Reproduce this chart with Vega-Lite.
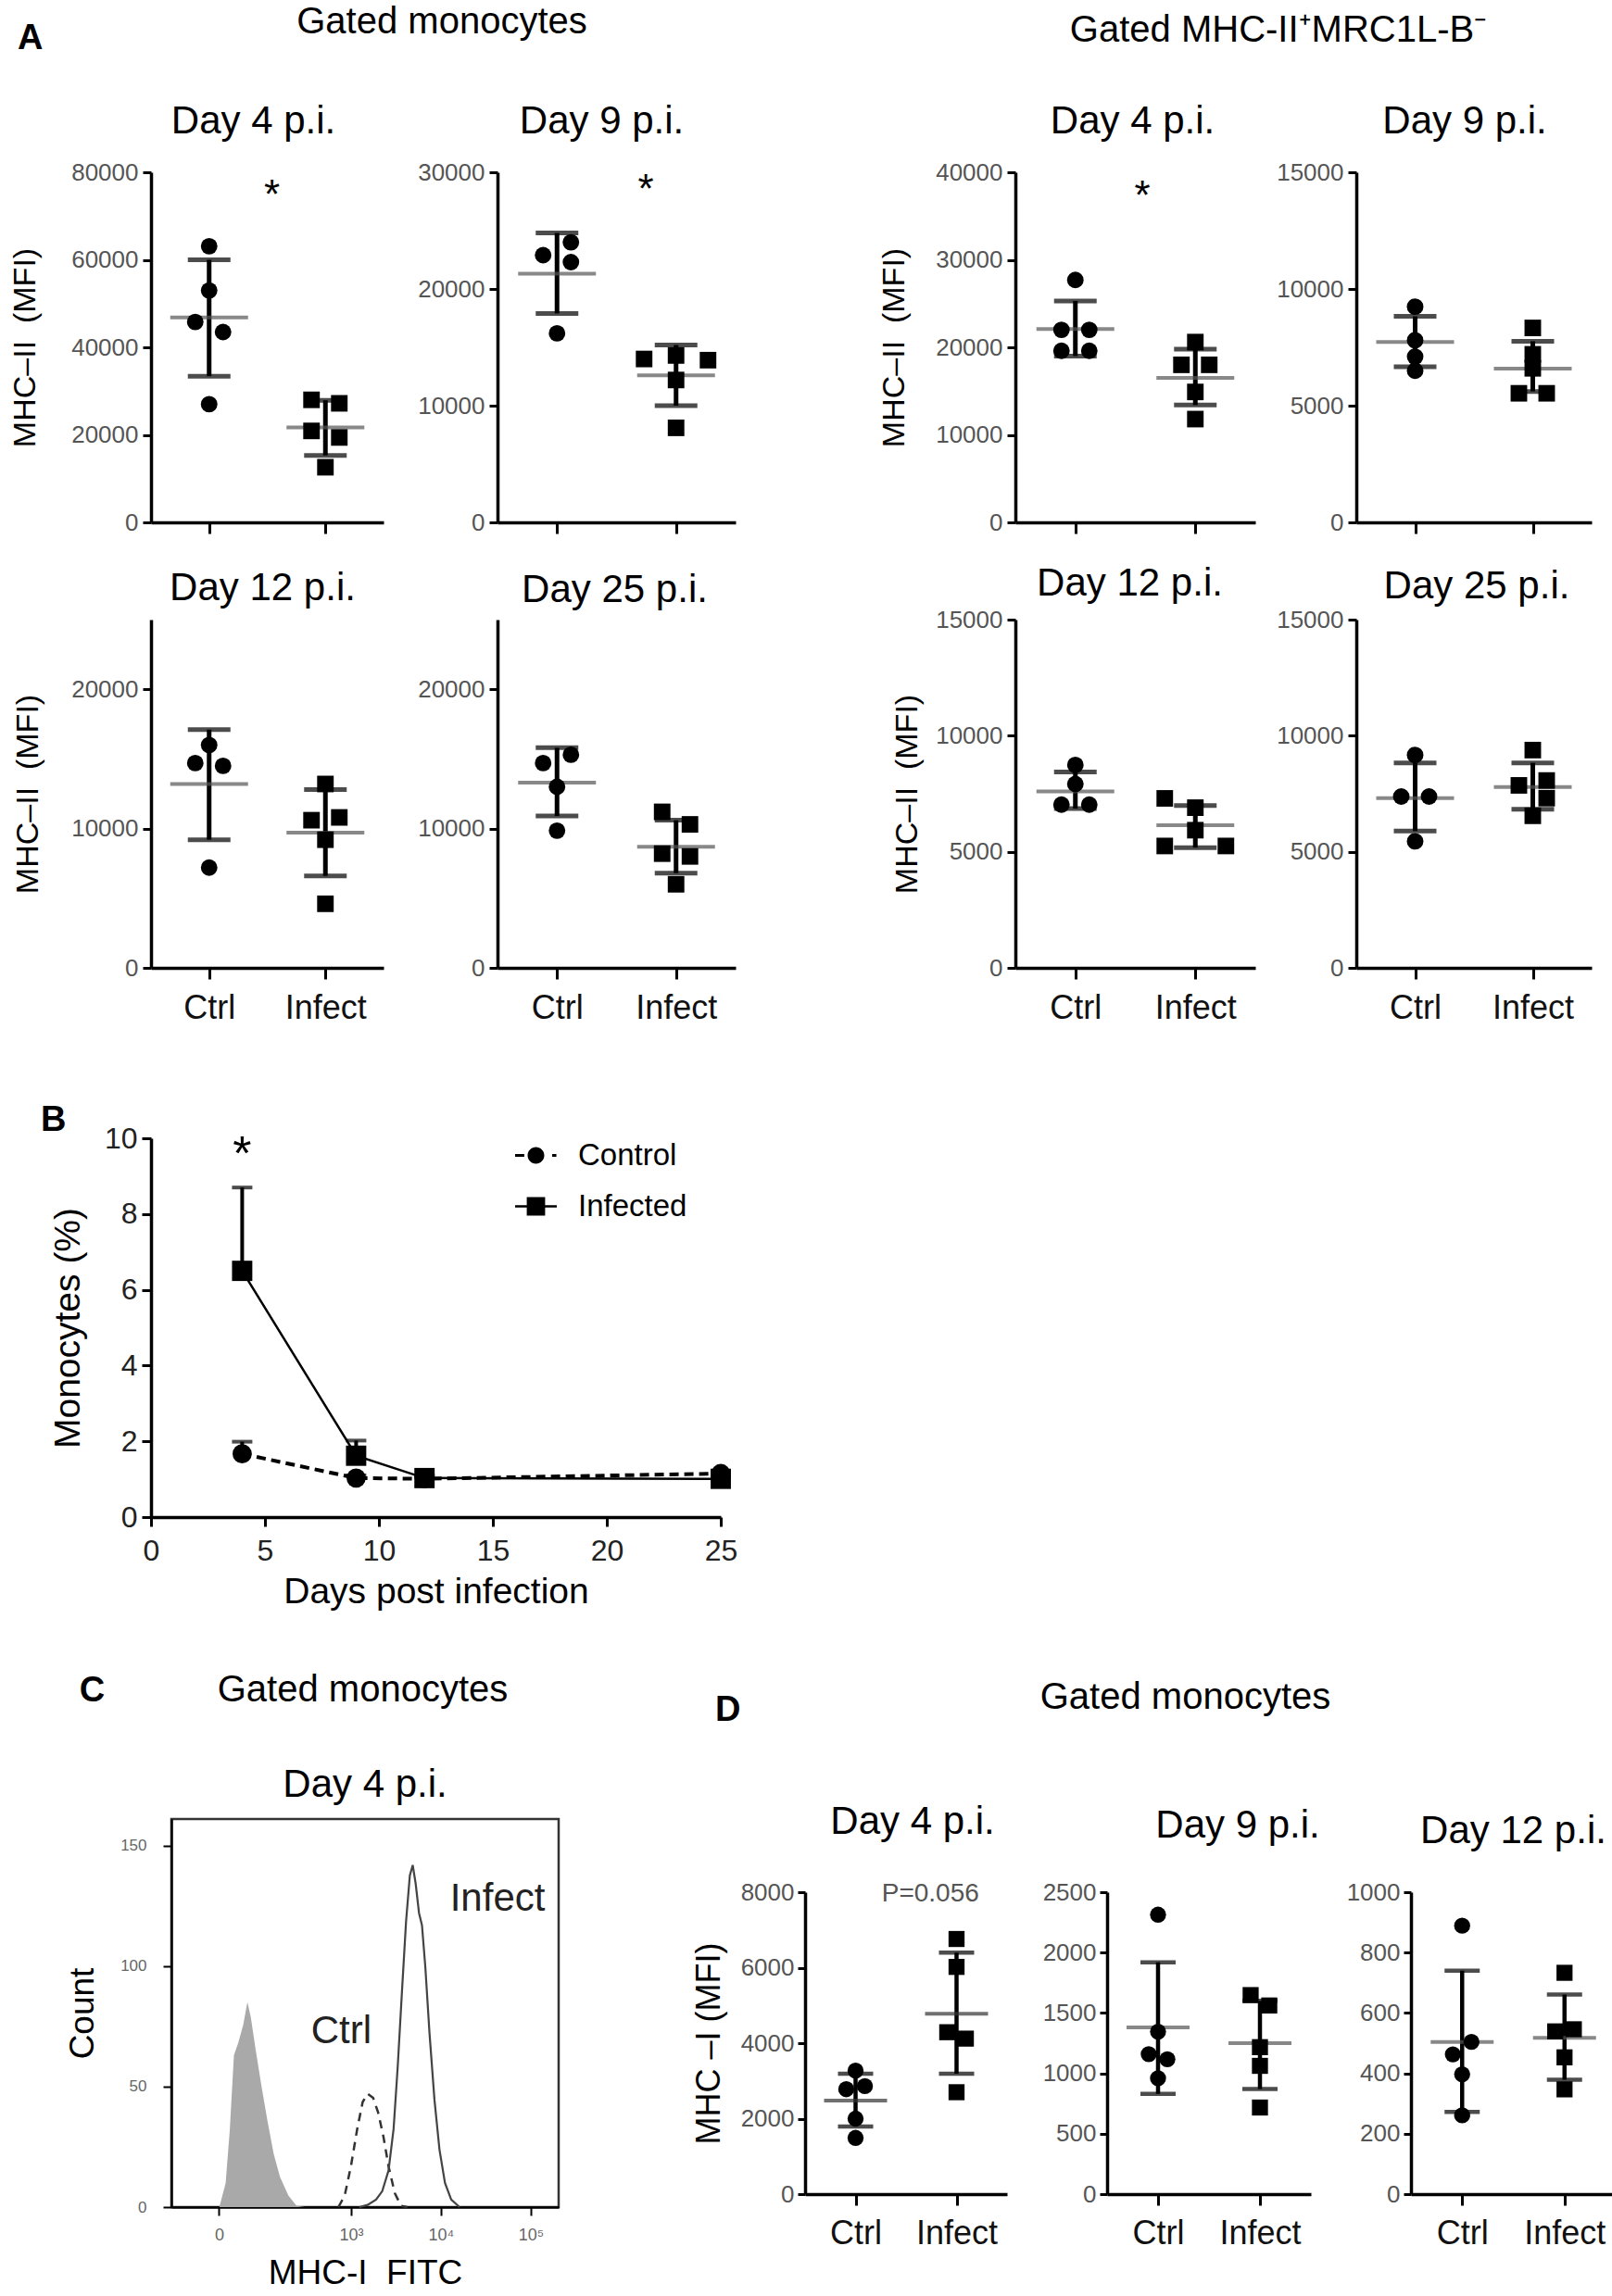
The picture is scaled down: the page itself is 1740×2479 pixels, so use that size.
{
"$schema": "https://vega.github.io/schema/vega-lite/v6.json",
"padding": {"left": 10, "top": 4, "right": 0, "bottom": 0},
"config": {
 "font": "Liberation Sans",
 "view": {"stroke": null},
 "axis": {"grid": false, "domainColor": "black", "domainWidth": 3.5, "tickColor": "black", "tickWidth": 3, "tickSize": 9, "labelColor": "#555", "labelFontSize": 26, "labelPadding": 5, "titleColor": "black", "titleFontWeight": "normal", "titleFontSize": 34, "labelOverlap": false},
 "axisY": {"minExtent": 88, "maxExtent": 88},
 "title": {"fontSize": 42, "fontWeight": "normal", "color": "black", "anchor": "middle", "frame": "group"}
},
"datasets": {
 "pts": [
  {"p":"A1","g":"Ctrl","v":63100,"j":0},{"p":"A1","g":"Ctrl","v":53000,"j":0},{"p":"A1","g":"Ctrl","v":45800,"j":-1},{"p":"A1","g":"Ctrl","v":43500,"j":1},{"p":"A1","g":"Ctrl","v":27000,"j":0},
  {"p":"A1","g":"Infect","v":28000,"j":-1},{"p":"A1","g":"Infect","v":27200,"j":1},{"p":"A1","g":"Infect","v":20900,"j":-1},{"p":"A1","g":"Infect","v":19400,"j":1},{"p":"A1","g":"Infect","v":12600,"j":0},
  {"p":"A2","g":"Ctrl","v":22900,"j":-1},{"p":"A2","g":"Ctrl","v":24000,"j":1},{"p":"A2","g":"Ctrl","v":22300,"j":1},{"p":"A2","g":"Ctrl","v":16200,"j":0},
  {"p":"A2","g":"Infect","v":14000,"j":-2.3},{"p":"A2","g":"Infect","v":14300,"j":0},{"p":"A2","g":"Infect","v":13900,"j":2.3},{"p":"A2","g":"Infect","v":12200,"j":0},{"p":"A2","g":"Infect","v":8100,"j":0},
  {"p":"A3","g":"Ctrl","v":27700,"j":0},{"p":"A3","g":"Ctrl","v":22000,"j":-1},{"p":"A3","g":"Ctrl","v":22000,"j":1},{"p":"A3","g":"Ctrl","v":19600,"j":-1},{"p":"A3","g":"Ctrl","v":19600,"j":1},
  {"p":"A3","g":"Infect","v":20600,"j":0},{"p":"A3","g":"Infect","v":18000,"j":-1},{"p":"A3","g":"Infect","v":18000,"j":1},{"p":"A3","g":"Infect","v":14900,"j":0},{"p":"A3","g":"Infect","v":11800,"j":0},
  {"p":"A4","g":"Ctrl","v":9240,"j":0},{"p":"A4","g":"Ctrl","v":7800,"j":0},{"p":"A4","g":"Ctrl","v":7100,"j":0},{"p":"A4","g":"Ctrl","v":6500,"j":0},
  {"p":"A4","g":"Infect","v":8330,"j":0},{"p":"A4","g":"Infect","v":7200,"j":0},{"p":"A4","g":"Infect","v":6600,"j":0},{"p":"A4","g":"Infect","v":5530,"j":-1},{"p":"A4","g":"Infect","v":5530,"j":1},
  {"p":"A5","g":"Ctrl","v":16000,"j":0},{"p":"A5","g":"Ctrl","v":14700,"j":-1},{"p":"A5","g":"Ctrl","v":14500,"j":1},{"p":"A5","g":"Ctrl","v":7200,"j":0},
  {"p":"A5","g":"Infect","v":13200,"j":0},{"p":"A5","g":"Infect","v":10600,"j":-1},{"p":"A5","g":"Infect","v":10800,"j":1},{"p":"A5","g":"Infect","v":9200,"j":0},{"p":"A5","g":"Infect","v":4600,"j":0},
  {"p":"A6","g":"Ctrl","v":15300,"j":1},{"p":"A6","g":"Ctrl","v":14700,"j":-1},{"p":"A6","g":"Ctrl","v":13000,"j":0},{"p":"A6","g":"Ctrl","v":9850,"j":0},
  {"p":"A6","g":"Infect","v":11200,"j":-1},{"p":"A6","g":"Infect","v":10300,"j":1},{"p":"A6","g":"Infect","v":8200,"j":-1},{"p":"A6","g":"Infect","v":8000,"j":1},{"p":"A6","g":"Infect","v":6000,"j":0},
  {"p":"A7","g":"Ctrl","v":8740,"j":0},{"p":"A7","g":"Ctrl","v":7920,"j":0},{"p":"A7","g":"Ctrl","v":7030,"j":-1},{"p":"A7","g":"Ctrl","v":7030,"j":1},
  {"p":"A7","g":"Infect","v":7300,"j":-2.2},{"p":"A7","g":"Infect","v":6900,"j":0},{"p":"A7","g":"Infect","v":5930,"j":0},{"p":"A7","g":"Infect","v":5250,"j":-2.2},{"p":"A7","g":"Infect","v":5250,"j":2.2},
  {"p":"A8","g":"Ctrl","v":9170,"j":0},{"p":"A8","g":"Ctrl","v":7380,"j":-1},{"p":"A8","g":"Ctrl","v":7380,"j":1},{"p":"A8","g":"Ctrl","v":5450,"j":0},
  {"p":"A8","g":"Infect","v":9380,"j":0},{"p":"A8","g":"Infect","v":7860,"j":-1},{"p":"A8","g":"Infect","v":8070,"j":1},{"p":"A8","g":"Infect","v":7310,"j":1},{"p":"A8","g":"Infect","v":6550,"j":0},
  {"p":"D1","g":"Ctrl","v":3270,"j":0},{"p":"D1","g":"Ctrl","v":2780,"j":-0.67},{"p":"D1","g":"Ctrl","v":2860,"j":0.67},{"p":"D1","g":"Ctrl","v":2000,"j":0},{"p":"D1","g":"Ctrl","v":1490,"j":0},
  {"p":"D1","g":"Infect","v":6760,"j":0},{"p":"D1","g":"Infect","v":6020,"j":0},{"p":"D1","g":"Infect","v":4290,"j":-0.67},{"p":"D1","g":"Infect","v":4120,"j":0.67},{"p":"D1","g":"Infect","v":2700,"j":0},
  {"p":"D2","g":"Ctrl","v":2314,"j":0},{"p":"D2","g":"Ctrl","v":1345,"j":0},{"p":"D2","g":"Ctrl","v":1159,"j":-0.67},{"p":"D2","g":"Ctrl","v":1117,"j":0.67},{"p":"D2","g":"Ctrl","v":959,"j":0},
  {"p":"D2","g":"Infect","v":1648,"j":-0.67},{"p":"D2","g":"Infect","v":1562,"j":0.67},{"p":"D2","g":"Infect","v":1217,"j":0},{"p":"D2","g":"Infect","v":1062,"j":0},{"p":"D2","g":"Infect","v":717,"j":0},
  {"p":"D3","g":"Ctrl","v":889,"j":0},{"p":"D3","g":"Ctrl","v":504,"j":0.67},{"p":"D3","g":"Ctrl","v":463,"j":-0.67},{"p":"D3","g":"Ctrl","v":397,"j":0},{"p":"D3","g":"Ctrl","v":261,"j":0},
  {"p":"D3","g":"Infect","v":733,"j":0},{"p":"D3","g":"Infect","v":539,"j":-0.67},{"p":"D3","g":"Infect","v":546,"j":0.67},{"p":"D3","g":"Infect","v":453,"j":0},{"p":"D3","g":"Infect","v":347,"j":0}
 ],
 "sum": [
  {"p":"A1","g":"Ctrl","mean":46800,"lo":33400,"hi":60000},{"p":"A1","g":"Infect","mean":21700,"lo":15300,"hi":27900},
  {"p":"A2","g":"Ctrl","mean":21300,"lo":17900,"hi":24800},{"p":"A2","g":"Infect","mean":12600,"lo":10000,"hi":15200},
  {"p":"A3","g":"Ctrl","mean":22100,"lo":19000,"hi":25300},{"p":"A3","g":"Infect","mean":16500,"lo":13400,"hi":19800},
  {"p":"A4","g":"Ctrl","mean":7730,"lo":6670,"hi":8830},{"p":"A4","g":"Infect","mean":6590,"lo":5610,"hi":7760},
  {"p":"A5","g":"Ctrl","mean":13200,"lo":9200,"hi":17100},{"p":"A5","g":"Infect","mean":9700,"lo":6600,"hi":12800},
  {"p":"A6","g":"Ctrl","mean":13300,"lo":10900,"hi":15800},{"p":"A6","g":"Infect","mean":8700,"lo":6800,"hi":10600},
  {"p":"A7","g":"Ctrl","mean":7600,"lo":6860,"hi":8440},{"p":"A7","g":"Infect","mean":6140,"lo":5180,"hi":6990},
  {"p":"A8","g":"Ctrl","mean":7310,"lo":5890,"hi":8830},{"p":"A8","g":"Infect","mean":7790,"lo":6830,"hi":8830},
  {"p":"D1","g":"Ctrl","mean":2480,"lo":1790,"hi":3190},{"p":"D1","g":"Infect","mean":4780,"lo":3190,"hi":6400},
  {"p":"D2","g":"Ctrl","mean":1380,"lo":830,"hi":1920},{"p":"D2","g":"Infect","mean":1250,"lo":870,"hi":1600},
  {"p":"D3","g":"Ctrl","mean":504,"lo":272,"hi":740},{"p":"D3","g":"Infect","mean":518,"lo":379,"hi":661}
 ],
 "ann": [
  {"p":"A1","g":"mid","t":"*","v":76700,"j":0.33},
  {"p":"A2","g":"mid","t":"*","v":29200,"j":2.1},
  {"p":"A3","g":"mid","t":"*","v":38200,"j":0.5},
  {"p":"D1","g":"mid","t":"P=0.056","v":7950,"j":1.75}
 ],
 "b": [
  {"day":4,"grp":"Control","m":1.67,"hi":1.99},{"day":9,"grp":"Control","m":1.03,"hi":1.1},{"day":12,"grp":"Control","m":1.01,"hi":1.06},{"day":25,"grp":"Control","m":1.15,"hi":1.2},
  {"day":4,"grp":"Infected","m":6.5,"hi":8.7},{"day":9,"grp":"Infected","m":1.62,"hi":2.02},{"day":12,"grp":"Infected","m":1.03,"hi":1.1},{"day":25,"grp":"Infected","m":1.01,"hi":1.08}
 ],
 "bann": [{"day":4,"v":9.85,"t":"*"}],
 "hist": [
  {"s":"iso","d":1.441,"c":0},{"s":"iso","d":1.534,"c":0},{"s":"iso","d":1.604,"c":10},{"s":"iso","d":1.65,"c":32},{"s":"iso","d":1.696,"c":63},{"s":"iso","d":1.743,"c":68},{"s":"iso","d":1.799,"c":75.5},{"s":"iso","d":1.846,"c":85},{"s":"iso","d":1.883,"c":79},{"s":"iso","d":1.939,"c":65},{"s":"iso","d":1.999,"c":51},{"s":"iso","d":2.068,"c":36},{"s":"iso","d":2.139,"c":22},{"s":"iso","d":2.208,"c":12.6},{"s":"iso","d":2.302,"c":4.8},{"s":"iso","d":2.394,"c":0.5},{"s":"iso","d":2.487,"c":0},
  {"s":"ctrl","d":2.859,"c":0},{"s":"ctrl","d":2.929,"c":4.8},{"s":"ctrl","d":2.998,"c":16.9},{"s":"ctrl","d":3.068,"c":32.4},{"s":"ctrl","d":3.129,"c":43.6},{"s":"ctrl","d":3.184,"c":47},{"s":"ctrl","d":3.245,"c":45.3},{"s":"ctrl","d":3.301,"c":39.3},{"s":"ctrl","d":3.361,"c":29},{"s":"ctrl","d":3.417,"c":16.9},{"s":"ctrl","d":3.487,"c":5.7},{"s":"ctrl","d":3.556,"c":0.5},{"s":"ctrl","d":3.626,"c":0},
  {"s":"inf","d":3.091,"c":0},{"s":"inf","d":3.184,"c":0.9},{"s":"inf","d":3.278,"c":3.1},{"s":"inf","d":3.347,"c":6.6},{"s":"inf","d":3.417,"c":15.2},{"s":"inf","d":3.473,"c":32.4},{"s":"inf","d":3.519,"c":58.3},{"s":"inf","d":3.566,"c":89.3},{"s":"inf","d":3.612,"c":118.6},{"s":"inf","d":3.654,"c":137.6},{"s":"inf","d":3.686,"c":141.9},{"s":"inf","d":3.719,"c":134.1},{"s":"inf","d":3.756,"c":122},{"s":"inf","d":3.789,"c":116.9},{"s":"inf","d":3.826,"c":99.7},{"s":"inf","d":3.873,"c":72},{"s":"inf","d":3.928,"c":44.5},{"s":"inf","d":3.984,"c":23.8},{"s":"inf","d":4.045,"c":10},{"s":"inf","d":4.114,"c":3.1},{"s":"inf","d":4.207,"c":0}
 ],
 "cann": [{"t":"Infect","d":4.63,"c":128},{"t":"Ctrl","d":2.89,"c":73}]
},
"vconcat": [
 {
  "title": {"text": "A", "anchor": "start", "frame": "bounds", "fontSize": 38, "fontWeight": "bold", "offset": 0, "dx": 9, "dy": 57},
  "hconcat": [
   {
    "title": {"text": "Gated monocytes", "fontSize": 40, "offset": 66, "frame": "bounds", "dx": 75},
    "columns": 2, "spacing": {"row": 105, "column": 123}, "bounds": "flush",
    "concat": [
     {"width":251,"height":378,"title":{"text":"Day 4 p.i.","offset":20,"dx":-15},
      "layer":[
       {"data":{"name":"sum"},"transform":[{"filter":"datum.p==='A1'"}],"mark":{"type":"rule","color":"black","strokeWidth":5},
        "encoding":{"x":{"field":"g","type":"nominal","scale":{"type":"point","domain":["Ctrl","mid","Infect"],"padding":1},"axis":{"values":["Ctrl","Infect"],"title":null,"labels":false,"tickSize":12}},
         "y":{"field":"lo","type":"quantitative","scale":{"domain":[0,80000],"nice":false},"axis":{"values":[0,20000,40000,60000,80000],"format":"d","title":"MHC–II\u00a0\u00a0(MFI)","titlePadding":31}},"y2":{"field":"hi"}}},
       {"data":{"name":"sum"},"transform":[{"filter":"datum.p==='A1'"}],"mark":{"type":"tick","color":"black","thickness":5,"size":46,"orient":"horizontal"},"encoding":{"x":{"field":"g","type":"nominal"},"y":{"field":"hi","type":"quantitative"}}},
       {"data":{"name":"sum"},"transform":[{"filter":"datum.p==='A1'"}],"mark":{"type":"tick","color":"black","thickness":5,"size":46,"orient":"horizontal"},"encoding":{"x":{"field":"g","type":"nominal"},"y":{"field":"lo","type":"quantitative"}}},
       {"data":{"name":"sum"},"transform":[{"filter":"datum.p==='A1'"}],"mark":{"type":"tick","color":"#555","thickness":4,"size":84,"orient":"horizontal"},"encoding":{"x":{"field":"g","type":"nominal"},"y":{"field":"mean","type":"quantitative"}}},
       {"data":{"name":"pts"},"transform":[{"filter":"datum.p==='A1' && datum.g==='Ctrl'"}],"mark":{"type":"point","shape":"circle","filled":true,"size":320,"color":"black","opacity":1},"encoding":{"x":{"field":"g","type":"nominal"},"xOffset":{"field":"j","type":"quantitative","scale":{"domain":[-1,1],"range":[-15,15]}},"y":{"field":"v","type":"quantitative"}}},
       {"data":{"name":"pts"},"transform":[{"filter":"datum.p==='A1' && datum.g==='Infect'"}],"mark":{"type":"point","shape":"square","filled":true,"size":320,"color":"black","opacity":1},"encoding":{"x":{"field":"g","type":"nominal"},"xOffset":{"field":"j","type":"quantitative","scale":{"domain":[-1,1],"range":[-15,15]}},"y":{"field":"v","type":"quantitative"}}},
       {"data":{"name":"ann"},"transform":[{"filter":"datum.p==='A1'"}],"mark":{"type":"text","fontSize":44,"baseline":"middle","dy":10,"color":"black"},"encoding":{"x":{"field":"g","type":"nominal"},"xOffset":{"field":"j","type":"quantitative","scale":{"domain":[-1,1],"range":[-15,15]}},"y":{"field":"v","type":"quantitative"},"text":{"field":"t"}}}
      ]},
     {"width":257,"height":378,"title":{"text":"Day 9 p.i.","offset":20,"dx":-16},
      "layer":[
       {"data":{"name":"sum"},"transform":[{"filter":"datum.p==='A2'"}],"mark":{"type":"rule","color":"black","strokeWidth":5},
        "encoding":{"x":{"field":"g","type":"nominal","scale":{"type":"point","domain":["Ctrl","mid","Infect"],"padding":1},"axis":{"values":["Ctrl","Infect"],"title":null,"labels":false,"tickSize":12}},
         "y":{"field":"lo","type":"quantitative","scale":{"domain":[0,30000],"nice":false},"axis":{"values":[0,10000,20000,30000],"format":"d","title":null}},"y2":{"field":"hi"}}},
       {"data":{"name":"sum"},"transform":[{"filter":"datum.p==='A2'"}],"mark":{"type":"tick","color":"black","thickness":5,"size":46,"orient":"horizontal"},"encoding":{"x":{"field":"g","type":"nominal"},"y":{"field":"hi","type":"quantitative"}}},
       {"data":{"name":"sum"},"transform":[{"filter":"datum.p==='A2'"}],"mark":{"type":"tick","color":"black","thickness":5,"size":46,"orient":"horizontal"},"encoding":{"x":{"field":"g","type":"nominal"},"y":{"field":"lo","type":"quantitative"}}},
       {"data":{"name":"sum"},"transform":[{"filter":"datum.p==='A2'"}],"mark":{"type":"tick","color":"#555","thickness":4,"size":84,"orient":"horizontal"},"encoding":{"x":{"field":"g","type":"nominal"},"y":{"field":"mean","type":"quantitative"}}},
       {"data":{"name":"pts"},"transform":[{"filter":"datum.p==='A2' && datum.g==='Ctrl'"}],"mark":{"type":"point","shape":"circle","filled":true,"size":320,"color":"black","opacity":1},"encoding":{"x":{"field":"g","type":"nominal"},"xOffset":{"field":"j","type":"quantitative","scale":{"domain":[-1,1],"range":[-15,15]}},"y":{"field":"v","type":"quantitative"}}},
       {"data":{"name":"pts"},"transform":[{"filter":"datum.p==='A2' && datum.g==='Infect'"}],"mark":{"type":"point","shape":"square","filled":true,"size":320,"color":"black","opacity":1},"encoding":{"x":{"field":"g","type":"nominal"},"xOffset":{"field":"j","type":"quantitative","scale":{"domain":[-1,1],"range":[-15,15]}},"y":{"field":"v","type":"quantitative"}}},
       {"data":{"name":"ann"},"transform":[{"filter":"datum.p==='A2'"}],"mark":{"type":"text","fontSize":44,"baseline":"middle","dy":10,"color":"black"},"encoding":{"x":{"field":"g","type":"nominal"},"xOffset":{"field":"j","type":"quantitative","scale":{"domain":[-1,1],"range":[-15,15]}},"y":{"field":"v","type":"quantitative"},"text":{"field":"t"}}}
      ]},
     {"width":251,"height":376,"title":{"text":"Day 12 p.i.","offset":12,"dx":-5},
      "layer":[
       {"data":{"name":"sum"},"transform":[{"filter":"datum.p==='A5'"}],"mark":{"type":"rule","color":"black","strokeWidth":5},
        "encoding":{"x":{"field":"g","type":"nominal","scale":{"type":"point","domain":["Ctrl","mid","Infect"],"padding":1},"axis":{"values":["Ctrl","Infect"],"title":null,"labels":true,"labelFontSize":36,"labelColor":"#111","labelPadding":14,"labelAngle":0,"tickSize":12}},
         "y":{"field":"lo","type":"quantitative","scale":{"domain":[0,25000],"nice":false},"axis":{"values":[0,10000,20000],"format":"d","title":"MHC–II\u00a0\u00a0(MFI)","titlePadding":28}},"y2":{"field":"hi"}}},
       {"data":{"name":"sum"},"transform":[{"filter":"datum.p==='A5'"}],"mark":{"type":"tick","color":"black","thickness":5,"size":46,"orient":"horizontal"},"encoding":{"x":{"field":"g","type":"nominal"},"y":{"field":"hi","type":"quantitative"}}},
       {"data":{"name":"sum"},"transform":[{"filter":"datum.p==='A5'"}],"mark":{"type":"tick","color":"black","thickness":5,"size":46,"orient":"horizontal"},"encoding":{"x":{"field":"g","type":"nominal"},"y":{"field":"lo","type":"quantitative"}}},
       {"data":{"name":"sum"},"transform":[{"filter":"datum.p==='A5'"}],"mark":{"type":"tick","color":"#555","thickness":4,"size":84,"orient":"horizontal"},"encoding":{"x":{"field":"g","type":"nominal"},"y":{"field":"mean","type":"quantitative"}}},
       {"data":{"name":"pts"},"transform":[{"filter":"datum.p==='A5' && datum.g==='Ctrl'"}],"mark":{"type":"point","shape":"circle","filled":true,"size":320,"color":"black","opacity":1},"encoding":{"x":{"field":"g","type":"nominal"},"xOffset":{"field":"j","type":"quantitative","scale":{"domain":[-1,1],"range":[-15,15]}},"y":{"field":"v","type":"quantitative"}}},
       {"data":{"name":"pts"},"transform":[{"filter":"datum.p==='A5' && datum.g==='Infect'"}],"mark":{"type":"point","shape":"square","filled":true,"size":320,"color":"black","opacity":1},"encoding":{"x":{"field":"g","type":"nominal"},"xOffset":{"field":"j","type":"quantitative","scale":{"domain":[-1,1],"range":[-15,15]}},"y":{"field":"v","type":"quantitative"}}}
      ]},
     {"width":257,"height":376,"title":{"text":"Day 25 p.i.","offset":10,"dx":-2},
      "layer":[
       {"data":{"name":"sum"},"transform":[{"filter":"datum.p==='A6'"}],"mark":{"type":"rule","color":"black","strokeWidth":5},
        "encoding":{"x":{"field":"g","type":"nominal","scale":{"type":"point","domain":["Ctrl","mid","Infect"],"padding":1},"axis":{"values":["Ctrl","Infect"],"title":null,"labels":true,"labelFontSize":36,"labelColor":"#111","labelPadding":14,"labelAngle":0,"tickSize":12}},
         "y":{"field":"lo","type":"quantitative","scale":{"domain":[0,25000],"nice":false},"axis":{"values":[0,10000,20000],"format":"d","title":null}},"y2":{"field":"hi"}}},
       {"data":{"name":"sum"},"transform":[{"filter":"datum.p==='A6'"}],"mark":{"type":"tick","color":"black","thickness":5,"size":46,"orient":"horizontal"},"encoding":{"x":{"field":"g","type":"nominal"},"y":{"field":"hi","type":"quantitative"}}},
       {"data":{"name":"sum"},"transform":[{"filter":"datum.p==='A6'"}],"mark":{"type":"tick","color":"black","thickness":5,"size":46,"orient":"horizontal"},"encoding":{"x":{"field":"g","type":"nominal"},"y":{"field":"lo","type":"quantitative"}}},
       {"data":{"name":"sum"},"transform":[{"filter":"datum.p==='A6'"}],"mark":{"type":"tick","color":"#555","thickness":4,"size":84,"orient":"horizontal"},"encoding":{"x":{"field":"g","type":"nominal"},"y":{"field":"mean","type":"quantitative"}}},
       {"data":{"name":"pts"},"transform":[{"filter":"datum.p==='A6' && datum.g==='Ctrl'"}],"mark":{"type":"point","shape":"circle","filled":true,"size":320,"color":"black","opacity":1},"encoding":{"x":{"field":"g","type":"nominal"},"xOffset":{"field":"j","type":"quantitative","scale":{"domain":[-1,1],"range":[-15,15]}},"y":{"field":"v","type":"quantitative"}}},
       {"data":{"name":"pts"},"transform":[{"filter":"datum.p==='A6' && datum.g==='Infect'"}],"mark":{"type":"point","shape":"square","filled":true,"size":320,"color":"black","opacity":1},"encoding":{"x":{"field":"g","type":"nominal"},"xOffset":{"field":"j","type":"quantitative","scale":{"domain":[-1,1],"range":[-15,15]}},"y":{"field":"v","type":"quantitative"}}}
      ]}
    ]
   },
   {
    "title": {"text": "Gated MHC-II⁺MRC1L-B⁻", "fontSize": 40, "offset": 66, "frame": "bounds", "dx": 47, "dy": 9},
    "columns": 2, "spacing": {"row": 105, "column": 109}, "bounds": "flush",
    "concat": [
     {"width":259,"height":378,"title":{"text":"Day 4 p.i.","offset":20,"dx":-3},
      "layer":[
       {"data":{"name":"sum"},"transform":[{"filter":"datum.p==='A3'"}],"mark":{"type":"rule","color":"black","strokeWidth":5},
        "encoding":{"x":{"field":"g","type":"nominal","scale":{"type":"point","domain":["Ctrl","mid","Infect"],"padding":1},"axis":{"values":["Ctrl","Infect"],"title":null,"labels":false,"tickSize":12}},
         "y":{"field":"lo","type":"quantitative","scale":{"domain":[0,40000],"nice":false},"axis":{"values":[0,10000,20000,30000,40000],"format":"d","title":"MHC–II\u00a0\u00a0(MFI)","titlePadding":26}},"y2":{"field":"hi"}}},
       {"data":{"name":"sum"},"transform":[{"filter":"datum.p==='A3'"}],"mark":{"type":"tick","color":"black","thickness":5,"size":46,"orient":"horizontal"},"encoding":{"x":{"field":"g","type":"nominal"},"y":{"field":"hi","type":"quantitative"}}},
       {"data":{"name":"sum"},"transform":[{"filter":"datum.p==='A3'"}],"mark":{"type":"tick","color":"black","thickness":5,"size":46,"orient":"horizontal"},"encoding":{"x":{"field":"g","type":"nominal"},"y":{"field":"lo","type":"quantitative"}}},
       {"data":{"name":"sum"},"transform":[{"filter":"datum.p==='A3'"}],"mark":{"type":"tick","color":"#555","thickness":4,"size":84,"orient":"horizontal"},"encoding":{"x":{"field":"g","type":"nominal"},"y":{"field":"mean","type":"quantitative"}}},
       {"data":{"name":"pts"},"transform":[{"filter":"datum.p==='A3' && datum.g==='Ctrl'"}],"mark":{"type":"point","shape":"circle","filled":true,"size":320,"color":"black","opacity":1},"encoding":{"x":{"field":"g","type":"nominal"},"xOffset":{"field":"j","type":"quantitative","scale":{"domain":[-1,1],"range":[-15,15]}},"y":{"field":"v","type":"quantitative"}}},
       {"data":{"name":"pts"},"transform":[{"filter":"datum.p==='A3' && datum.g==='Infect'"}],"mark":{"type":"point","shape":"square","filled":true,"size":320,"color":"black","opacity":1},"encoding":{"x":{"field":"g","type":"nominal"},"xOffset":{"field":"j","type":"quantitative","scale":{"domain":[-1,1],"range":[-15,15]}},"y":{"field":"v","type":"quantitative"}}},
       {"data":{"name":"ann"},"transform":[{"filter":"datum.p==='A3'"}],"mark":{"type":"text","fontSize":44,"baseline":"middle","dy":10,"color":"black"},"encoding":{"x":{"field":"g","type":"nominal"},"xOffset":{"field":"j","type":"quantitative","scale":{"domain":[-1,1],"range":[-15,15]}},"y":{"field":"v","type":"quantitative"},"text":{"field":"t"}}}
      ]},
     {"width":254,"height":378,"title":{"text":"Day 9 p.i.","offset":20,"dx":-10},
      "layer":[
       {"data":{"name":"sum"},"transform":[{"filter":"datum.p==='A4'"}],"mark":{"type":"rule","color":"black","strokeWidth":5},
        "encoding":{"x":{"field":"g","type":"nominal","scale":{"type":"point","domain":["Ctrl","mid","Infect"],"padding":1},"axis":{"values":["Ctrl","Infect"],"title":null,"labels":false,"tickSize":12}},
         "y":{"field":"lo","type":"quantitative","scale":{"domain":[0,15000],"nice":false},"axis":{"values":[0,5000,10000,15000],"format":"d","title":null}},"y2":{"field":"hi"}}},
       {"data":{"name":"sum"},"transform":[{"filter":"datum.p==='A4'"}],"mark":{"type":"tick","color":"black","thickness":5,"size":46,"orient":"horizontal"},"encoding":{"x":{"field":"g","type":"nominal"},"y":{"field":"hi","type":"quantitative"}}},
       {"data":{"name":"sum"},"transform":[{"filter":"datum.p==='A4'"}],"mark":{"type":"tick","color":"black","thickness":5,"size":46,"orient":"horizontal"},"encoding":{"x":{"field":"g","type":"nominal"},"y":{"field":"lo","type":"quantitative"}}},
       {"data":{"name":"sum"},"transform":[{"filter":"datum.p==='A4'"}],"mark":{"type":"tick","color":"#555","thickness":4,"size":84,"orient":"horizontal"},"encoding":{"x":{"field":"g","type":"nominal"},"y":{"field":"mean","type":"quantitative"}}},
       {"data":{"name":"pts"},"transform":[{"filter":"datum.p==='A4' && datum.g==='Ctrl'"}],"mark":{"type":"point","shape":"circle","filled":true,"size":320,"color":"black","opacity":1},"encoding":{"x":{"field":"g","type":"nominal"},"xOffset":{"field":"j","type":"quantitative","scale":{"domain":[-1,1],"range":[-15,15]}},"y":{"field":"v","type":"quantitative"}}},
       {"data":{"name":"pts"},"transform":[{"filter":"datum.p==='A4' && datum.g==='Infect'"}],"mark":{"type":"point","shape":"square","filled":true,"size":320,"color":"black","opacity":1},"encoding":{"x":{"field":"g","type":"nominal"},"xOffset":{"field":"j","type":"quantitative","scale":{"domain":[-1,1],"range":[-15,15]}},"y":{"field":"v","type":"quantitative"}}}
      ]},
     {"width":259,"height":376,"title":{"text":"Day 12 p.i.","offset":4,"dx":-6},
      "layer":[
       {"data":{"name":"sum"},"transform":[{"filter":"datum.p==='A7'"}],"mark":{"type":"rule","color":"black","strokeWidth":5},
        "encoding":{"x":{"field":"g","type":"nominal","scale":{"type":"point","domain":["Ctrl","mid","Infect"],"padding":1},"axis":{"values":["Ctrl","Infect"],"title":null,"labels":true,"labelFontSize":36,"labelColor":"#111","labelPadding":14,"labelAngle":0,"tickSize":12}},
         "y":{"field":"lo","type":"quantitative","scale":{"domain":[0,15000],"nice":false},"axis":{"values":[0,5000,10000,15000],"format":"d","title":"MHC–II\u00a0\u00a0(MFI)","titlePadding":12}},"y2":{"field":"hi"}}},
       {"data":{"name":"sum"},"transform":[{"filter":"datum.p==='A7'"}],"mark":{"type":"tick","color":"black","thickness":5,"size":46,"orient":"horizontal"},"encoding":{"x":{"field":"g","type":"nominal"},"y":{"field":"hi","type":"quantitative"}}},
       {"data":{"name":"sum"},"transform":[{"filter":"datum.p==='A7'"}],"mark":{"type":"tick","color":"black","thickness":5,"size":46,"orient":"horizontal"},"encoding":{"x":{"field":"g","type":"nominal"},"y":{"field":"lo","type":"quantitative"}}},
       {"data":{"name":"sum"},"transform":[{"filter":"datum.p==='A7'"}],"mark":{"type":"tick","color":"#555","thickness":4,"size":84,"orient":"horizontal"},"encoding":{"x":{"field":"g","type":"nominal"},"y":{"field":"mean","type":"quantitative"}}},
       {"data":{"name":"pts"},"transform":[{"filter":"datum.p==='A7' && datum.g==='Ctrl'"}],"mark":{"type":"point","shape":"circle","filled":true,"size":320,"color":"black","opacity":1},"encoding":{"x":{"field":"g","type":"nominal"},"xOffset":{"field":"j","type":"quantitative","scale":{"domain":[-1,1],"range":[-15,15]}},"y":{"field":"v","type":"quantitative"}}},
       {"data":{"name":"pts"},"transform":[{"filter":"datum.p==='A7' && datum.g==='Infect'"}],"mark":{"type":"point","shape":"square","filled":true,"size":320,"color":"black","opacity":1},"encoding":{"x":{"field":"g","type":"nominal"},"xOffset":{"field":"j","type":"quantitative","scale":{"domain":[-1,1],"range":[-15,15]}},"y":{"field":"v","type":"quantitative"}}}
      ]},
     {"width":254,"height":376,"title":{"text":"Day 25 p.i.","offset":1,"dx":3},
      "layer":[
       {"data":{"name":"sum"},"transform":[{"filter":"datum.p==='A8'"}],"mark":{"type":"rule","color":"black","strokeWidth":5},
        "encoding":{"x":{"field":"g","type":"nominal","scale":{"type":"point","domain":["Ctrl","mid","Infect"],"padding":1},"axis":{"values":["Ctrl","Infect"],"title":null,"labels":true,"labelFontSize":36,"labelColor":"#111","labelPadding":14,"labelAngle":0,"tickSize":12}},
         "y":{"field":"lo","type":"quantitative","scale":{"domain":[0,15000],"nice":false},"axis":{"values":[0,5000,10000,15000],"format":"d","title":null}},"y2":{"field":"hi"}}},
       {"data":{"name":"sum"},"transform":[{"filter":"datum.p==='A8'"}],"mark":{"type":"tick","color":"black","thickness":5,"size":46,"orient":"horizontal"},"encoding":{"x":{"field":"g","type":"nominal"},"y":{"field":"hi","type":"quantitative"}}},
       {"data":{"name":"sum"},"transform":[{"filter":"datum.p==='A8'"}],"mark":{"type":"tick","color":"black","thickness":5,"size":46,"orient":"horizontal"},"encoding":{"x":{"field":"g","type":"nominal"},"y":{"field":"lo","type":"quantitative"}}},
       {"data":{"name":"sum"},"transform":[{"filter":"datum.p==='A8'"}],"mark":{"type":"tick","color":"#555","thickness":4,"size":84,"orient":"horizontal"},"encoding":{"x":{"field":"g","type":"nominal"},"y":{"field":"mean","type":"quantitative"}}},
       {"data":{"name":"pts"},"transform":[{"filter":"datum.p==='A8' && datum.g==='Ctrl'"}],"mark":{"type":"point","shape":"circle","filled":true,"size":320,"color":"black","opacity":1},"encoding":{"x":{"field":"g","type":"nominal"},"xOffset":{"field":"j","type":"quantitative","scale":{"domain":[-1,1],"range":[-15,15]}},"y":{"field":"v","type":"quantitative"}}},
       {"data":{"name":"pts"},"transform":[{"filter":"datum.p==='A8' && datum.g==='Infect'"}],"mark":{"type":"point","shape":"square","filled":true,"size":320,"color":"black","opacity":1},"encoding":{"x":{"field":"g","type":"nominal"},"xOffset":{"field":"j","type":"quantitative","scale":{"domain":[-1,1],"range":[-15,15]}},"y":{"field":"v","type":"quantitative"}}}
      ]}
    ]
   }
  ],
  "spacing": 154
 },
 {
  "resolve": {"scale": {"shape": "independent"}, "legend": {"shape": "independent"}},
  "vconcat": [
   {"width":615,"height":409,
    "title":{"text":"B","anchor":"start","frame":"bounds","fontSize":38,"fontWeight":"bold","offset":0,"dx":-10,"dy":16},
    "layer":[
     {"data":{"name":"b"},"transform":[{"filter":"datum.grp==='Infected'"}],"mark":{"type":"line","color":"black","strokeWidth":2.5},
      "encoding":{"x":{"field":"day","type":"quantitative","scale":{"domain":[0,25],"nice":false},"axis":{"values":[0,5,10,15,20,25],"title":"Days post infection","titleFontSize":39,"titlePadding":9,"labelFontSize":32,"labelColor":"#222","tickSize":10,"labelPadding":11,"labelFlush":false}},
       "y":{"field":"m","type":"quantitative","scale":{"domain":[0,10],"nice":false},"axis":{"values":[0,2,4,6,8,10],"title":"Monocytes (%)","titleFontSize":39,"titlePadding":19,"labelFontSize":32,"labelColor":"#222","tickSize":10,"labelPadding":5,"minExtent":51,"maxExtent":51}}}},
     {"data":{"name":"b"},"transform":[{"filter":"datum.grp==='Control'"}],"mark":{"type":"line","color":"black","strokeWidth":4,"strokeDash":[10,6]},
      "encoding":{"x":{"field":"day","type":"quantitative"},"y":{"field":"m","type":"quantitative"}}},
     {"data":{"name":"b"},"mark":{"type":"rule","color":"black","strokeWidth":4},"encoding":{"x":{"field":"day","type":"quantitative"},"y":{"field":"m","type":"quantitative"},"y2":{"field":"hi"}}},
     {"data":{"name":"b"},"mark":{"type":"tick","color":"black","thickness":4,"size":22,"orient":"horizontal"},"encoding":{"x":{"field":"day","type":"quantitative"},"y":{"field":"hi","type":"quantitative"}}},
     {"data":{"name":"b"},"transform":[{"filter":"datum.grp==='Control'"}],"mark":{"type":"point","shape":"circle","filled":true,"size":430,"color":"black","opacity":1},"encoding":{"x":{"field":"day","type":"quantitative"},"y":{"field":"m","type":"quantitative"}}},
     {"data":{"name":"b"},"transform":[{"filter":"datum.grp==='Infected'"}],"mark":{"type":"point","shape":"square","filled":true,"size":480,"color":"black","opacity":1},"encoding":{"x":{"field":"day","type":"quantitative"},"y":{"field":"m","type":"quantitative"}}},
     {"data":{"name":"b"},"mark":{"type":"point","filled":true,"color":"black","opacity":0},
      "encoding":{"x":{"field":"day","type":"quantitative"},"y":{"field":"m","type":"quantitative"},
       "shape":{"field":"grp","type":"nominal","scale":{"domain":["Control","Infected"],"range":["M-1,-0.07L-0.56,-0.07L-0.56,0.07L-1,0.07ZM0.78,-0.07L0.98,-0.07L0.98,0.07L0.78,0.07ZM0,-0.4A0.4,0.4,0,1,1,0,0.4A0.4,0.4,0,1,1,0,-0.4Z","M-1,-0.06L1,-0.06L1,0.06L-1,0.06ZM-0.44,-0.44L0.44,-0.44L0.44,0.44L-0.44,0.44Z"]},
        "legend":{"title":null,"orient":"none","legendX":392,"legendY":-5,"padding":0,"labelFontSize":33,"labelColor":"black","symbolSize":2025,"symbolFillColor":"black","symbolOpacity":1,"rowPadding":14,"labelOffset":22,
         "encode":{"symbols":{"fill":{"value":"black"},"fillOpacity":{"value":1}}}}}}},
     {"data":{"name":"bann"},"mark":{"type":"text","fontSize":52,"baseline":"middle","dy":12,"color":"black"},"encoding":{"x":{"field":"day","type":"quantitative"},"y":{"field":"v","type":"quantitative"},"text":{"field":"t"}}}
    ]},
   {
    "hconcat": [
     {"width":1,"height":1,"data":{"values":[]},"mark":"point"},
     {
      "hconcat": [
       {
        "title":{"text":"C","anchor":"start","frame":"bounds","fontSize":38,"fontWeight":"bold","offset":0,"dx":17,"dy":40},
        "hconcat":[
         {
          "title":{"text":"Gated monocytes","fontSize":40,"offset":60,"frame":"bounds","dx":55},
          "hconcat":[
           {"width":418,"height":419,"view":{"stroke":"#333","strokeWidth":2.5},
            "title":{"text":"Day 4 p.i.","offset":15},
            "layer":[
             {"data":{"name":"hist"},"transform":[{"filter":"datum.s==='iso'"}],"mark":{"type":"area","color":"#a9a9a9","opacity":1},
              "encoding":{"x":{"field":"d","type":"quantitative","scale":{"domain":[1.0,5.31],"nice":false,"zero":false},
                "axis":{"title":"MHC-I\u00a0\u00a0FITC","titleFontSize":37,"titlePadding":14,"values":[1.53,3,4,5],
                 "labelExpr":"datum.value === 3 ? '10³' : datum.value === 4 ? '10⁴' : datum.value === 5 ? '10⁵' : '0'",
                 "tickSize":9,"tickWidth":2,"domainWidth":2.5,"labelFontSize":18,"labelColor":"#666","labelPadding":12,"labelFlush":false,"labelOverlap":false}},
               "y":{"field":"c","type":"quantitative","scale":{"domain":[0,161],"nice":false},
                "axis":{"title":"Count","titleFontSize":37,"titlePadding":22,"values":[0,50,100,150],
                 "tickSize":9,"tickWidth":2,"domainWidth":2.5,"labelFontSize":17,"labelColor":"#666","labelPadding":18,"labelOverlap":false,"minExtent":55,"maxExtent":55}}}},
             {"data":{"name":"hist"},"transform":[{"filter":"datum.s==='ctrl'"}],"mark":{"type":"line","color":"#333","strokeWidth":2.5,"strokeDash":[9,7]},
              "encoding":{"x":{"field":"d","type":"quantitative"},"y":{"field":"c","type":"quantitative"}}},
             {"data":{"name":"hist"},"transform":[{"filter":"datum.s==='inf'"}],"mark":{"type":"line","color":"#444","strokeWidth":2.2},
              "encoding":{"x":{"field":"d","type":"quantitative"},"y":{"field":"c","type":"quantitative"}}},
             {"data":{"name":"cann"},"mark":{"type":"text","fontSize":42,"color":"#222"},
              "encoding":{"x":{"field":"d","type":"quantitative"},"y":{"field":"c","type":"quantitative"},"text":{"field":"t"}}}
            ]}
          ]
         }
        ]
       },
       {
        "title":{"text":"D","anchor":"start","frame":"bounds","fontSize":38,"fontWeight":"bold","offset":0,"dx":25,"dy":53},
        "hconcat":[
         {
          "title":{"text":"Gated monocytes","fontSize":40,"offset":93,"frame":"bounds","dx":34},
          "vconcat":[
           {"width":1,"height":1,"data":{"values":[]},"mark":"point"},
           {
            "hconcat":[
             {"width":218,"height":326,"title":{"text":"Day 4 p.i.","offset":41,"dx":7},
              "layer":[
               {"data":{"name":"sum"},"transform":[{"filter":"datum.p==='D1'"}],"mark":{"type":"rule","color":"black","strokeWidth":4.5},
                "encoding":{"x":{"field":"g","type":"nominal","scale":{"type":"point","domain":["Ctrl","mid","Infect"],"padding":1},"axis":{"values":["Ctrl","Infect"],"title":null,"labels":true,"labelFontSize":36,"labelColor":"#111","labelPadding":13,"labelAngle":0,"tickSize":12}},
                 "y":{"field":"lo","type":"quantitative","scale":{"domain":[0,8000],"nice":false},"axis":{"values":[0,2000,4000,6000,8000],"format":"d","title":"MHC –I\u00a0(MFI)","titleFontSize":36,"titlePadding":15,"minExtent":70,"maxExtent":70,"tickSize":8,"labelPadding":4}},"y2":{"field":"hi"}}},
               {"data":{"name":"sum"},"transform":[{"filter":"datum.p==='D1'"}],"mark":{"type":"tick","color":"black","thickness":4.5,"size":38,"orient":"horizontal"},"encoding":{"x":{"field":"g","type":"nominal"},"y":{"field":"hi","type":"quantitative"}}},
               {"data":{"name":"sum"},"transform":[{"filter":"datum.p==='D1'"}],"mark":{"type":"tick","color":"black","thickness":4.5,"size":38,"orient":"horizontal"},"encoding":{"x":{"field":"g","type":"nominal"},"y":{"field":"lo","type":"quantitative"}}},
               {"data":{"name":"sum"},"transform":[{"filter":"datum.p==='D1'"}],"mark":{"type":"tick","color":"#333","thickness":4,"size":68,"orient":"horizontal"},"encoding":{"x":{"field":"g","type":"nominal"},"y":{"field":"mean","type":"quantitative"}}},
               {"data":{"name":"pts"},"transform":[{"filter":"datum.p==='D1' && datum.g==='Ctrl'"}],"mark":{"type":"point","shape":"circle","filled":true,"size":300,"color":"black","opacity":1},"encoding":{"x":{"field":"g","type":"nominal"},"xOffset":{"field":"j","type":"quantitative","scale":{"domain":[-1,1],"range":[-15,15]}},"y":{"field":"v","type":"quantitative"}}},
               {"data":{"name":"pts"},"transform":[{"filter":"datum.p==='D1' && datum.g==='Infect'"}],"mark":{"type":"point","shape":"square","filled":true,"size":300,"color":"black","opacity":1},"encoding":{"x":{"field":"g","type":"nominal"},"xOffset":{"field":"j","type":"quantitative","scale":{"domain":[-1,1],"range":[-15,15]}},"y":{"field":"v","type":"quantitative"}}},
               {"data":{"name":"ann"},"transform":[{"filter":"datum.p==='D1'"}],"mark":{"type":"text","fontSize":28,"baseline":"middle","color":"#555"},"encoding":{"x":{"field":"g","type":"nominal"},"xOffset":{"field":"j","type":"quantitative","scale":{"domain":[-1,1],"range":[-15,15]}},"y":{"field":"v","type":"quantitative"},"text":{"field":"t"}}}
              ]},
             {"width":220,"height":326,"title":{"text":"Day 9 p.i.","offset":37,"dx":31},
              "layer":[
               {"data":{"name":"sum"},"transform":[{"filter":"datum.p==='D2'"}],"mark":{"type":"rule","color":"black","strokeWidth":4.5},
                "encoding":{"x":{"field":"g","type":"nominal","scale":{"type":"point","domain":["Ctrl","mid","Infect"],"padding":1},"axis":{"values":["Ctrl","Infect"],"title":null,"labels":true,"labelFontSize":36,"labelColor":"#111","labelPadding":13,"labelAngle":0,"tickSize":12}},
                 "y":{"field":"lo","type":"quantitative","scale":{"domain":[0,2500],"nice":false},"axis":{"values":[0,500,1000,1500,2000,2500],"format":"d","title":null,"minExtent":70,"maxExtent":70,"tickSize":8,"labelPadding":4}},"y2":{"field":"hi"}}},
               {"data":{"name":"sum"},"transform":[{"filter":"datum.p==='D2'"}],"mark":{"type":"tick","color":"black","thickness":4.5,"size":38,"orient":"horizontal"},"encoding":{"x":{"field":"g","type":"nominal"},"y":{"field":"hi","type":"quantitative"}}},
               {"data":{"name":"sum"},"transform":[{"filter":"datum.p==='D2'"}],"mark":{"type":"tick","color":"black","thickness":4.5,"size":38,"orient":"horizontal"},"encoding":{"x":{"field":"g","type":"nominal"},"y":{"field":"lo","type":"quantitative"}}},
               {"data":{"name":"sum"},"transform":[{"filter":"datum.p==='D2'"}],"mark":{"type":"tick","color":"#555","thickness":4,"size":68,"orient":"horizontal"},"encoding":{"x":{"field":"g","type":"nominal"},"y":{"field":"mean","type":"quantitative"}}},
               {"data":{"name":"pts"},"transform":[{"filter":"datum.p==='D2' && datum.g==='Ctrl'"}],"mark":{"type":"point","shape":"circle","filled":true,"size":300,"color":"black","opacity":1},"encoding":{"x":{"field":"g","type":"nominal"},"xOffset":{"field":"j","type":"quantitative","scale":{"domain":[-1,1],"range":[-15,15]}},"y":{"field":"v","type":"quantitative"}}},
               {"data":{"name":"pts"},"transform":[{"filter":"datum.p==='D2' && datum.g==='Infect'"}],"mark":{"type":"point","shape":"square","filled":true,"size":300,"color":"black","opacity":1},"encoding":{"x":{"field":"g","type":"nominal"},"xOffset":{"field":"j","type":"quantitative","scale":{"domain":[-1,1],"range":[-15,15]}},"y":{"field":"v","type":"quantitative"}}}
              ]},
             {"width":221,"height":326,"title":{"text":"Day 12 p.i.","offset":31},
              "layer":[
               {"data":{"name":"sum"},"transform":[{"filter":"datum.p==='D3'"}],"mark":{"type":"rule","color":"black","strokeWidth":4.5},
                "encoding":{"x":{"field":"g","type":"nominal","scale":{"type":"point","domain":["Ctrl","mid","Infect"],"padding":1},"axis":{"values":["Ctrl","Infect"],"title":null,"labels":true,"labelFontSize":36,"labelColor":"#111","labelPadding":13,"labelAngle":0,"tickSize":12}},
                 "y":{"field":"lo","type":"quantitative","scale":{"domain":[0,1000],"nice":false},"axis":{"values":[0,200,400,600,800,1000],"format":"d","title":null,"minExtent":70,"maxExtent":70,"tickSize":8,"labelPadding":4}},"y2":{"field":"hi"}}},
               {"data":{"name":"sum"},"transform":[{"filter":"datum.p==='D3'"}],"mark":{"type":"tick","color":"black","thickness":4.5,"size":38,"orient":"horizontal"},"encoding":{"x":{"field":"g","type":"nominal"},"y":{"field":"hi","type":"quantitative"}}},
               {"data":{"name":"sum"},"transform":[{"filter":"datum.p==='D3'"}],"mark":{"type":"tick","color":"black","thickness":4.5,"size":38,"orient":"horizontal"},"encoding":{"x":{"field":"g","type":"nominal"},"y":{"field":"lo","type":"quantitative"}}},
               {"data":{"name":"sum"},"transform":[{"filter":"datum.p==='D3'"}],"mark":{"type":"tick","color":"#555","thickness":4,"size":68,"orient":"horizontal"},"encoding":{"x":{"field":"g","type":"nominal"},"y":{"field":"mean","type":"quantitative"}}},
               {"data":{"name":"pts"},"transform":[{"filter":"datum.p==='D3' && datum.g==='Ctrl'"}],"mark":{"type":"point","shape":"circle","filled":true,"size":300,"color":"black","opacity":1},"encoding":{"x":{"field":"g","type":"nominal"},"xOffset":{"field":"j","type":"quantitative","scale":{"domain":[-1,1],"range":[-15,15]}},"y":{"field":"v","type":"quantitative"}}},
               {"data":{"name":"pts"},"transform":[{"filter":"datum.p==='D3' && datum.g==='Infect'"}],"mark":{"type":"point","shape":"square","filled":true,"size":300,"color":"black","opacity":1},"encoding":{"x":{"field":"g","type":"nominal"},"xOffset":{"field":"j","type":"quantitative","scale":{"domain":[-1,1],"range":[-15,15]}},"y":{"field":"v","type":"quantitative"}}}
              ]}
            ],
            "spacing":108,"bounds":"flush"
           }
          ],
          "spacing": -19
         }
        ]
       }
      ],
      "spacing": 142
     }
    ],
    "spacing": -96
   }
  ],
  "spacing": 66
 }
],
"spacing": 85
}
